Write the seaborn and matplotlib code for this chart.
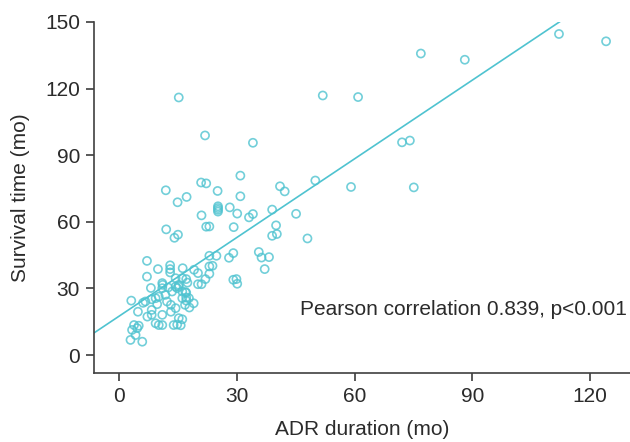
import numpy as np
import pandas as pd
import matplotlib
matplotlib.use("Agg")
import matplotlib.pyplot as plt
import seaborn as sns

# values (months)
adr_duration = [
    112.1, 124.1, 88.1, 76.9, 51.9, 60.9, 15.2, 21.9, 34.1, 72.1, 74.1, 75.1, 59.1, 50.0,
    45.1, 48.0, 41.0, 42.2, 39.0, 40.0, 39.0, 40.2, 35.6, 36.3, 38.2, 37.1,
    30.9, 20.9, 22.2, 25.1, 17.2, 30.9, 14.9, 25.2, 25.2, 25.2, 25.2, 28.2, 21.0, 30.1,
    33.1, 34.1, 22.2, 23.0, 29.2, 11.9, 12.0, 14.1, 15.0,
    23.0, 24.8, 28.0, 29.1, 23.0, 23.8, 23.0, 22.0, 20.1, 19.1, 20.1, 21.0, 29.1, 29.9, 30.1,
    16.2, 16.1, 17.1, 17.4, 15.2, 17.1, 16.1, 17.1, 19.0, 17.9, 15.2, 16.1,
    7.1, 9.9, 13.0, 13.0, 13.0, 7.1, 8.1, 3.1, 4.8, 3.8, 3.3, 4.6, 5.0, 2.9, 5.9,
    9.3, 10.1, 11.0, 16.8, 6.1, 6.7, 8.3, 9.3, 10.1, 11.0, 11.1, 12.5, 11.8, 13.5, 14.4,
    14.8, 15.2, 7.2, 8.3, 8.3, 11.0, 13.2, 14.4, 16.1, 16.9, 17.1, 17.8, 9.7, 12.2, 13.2,
    13.9, 14.8, 15.7, 14.4, 11.0, 4.2,
]
survival_time = [
    144.6, 141.3, 133.0, 135.8, 116.9, 116.2, 116.0, 98.9, 95.6, 95.8, 96.6, 75.5, 75.7, 78.6,
    63.6, 52.5, 76.0, 73.7, 65.5, 58.4, 53.7, 54.5, 46.4, 43.9, 44.1, 38.7,
    80.8, 77.7, 77.3, 73.9, 71.2, 71.5, 68.8, 67.0, 66.2, 65.4, 64.6, 66.5, 62.9, 63.7,
    62.0, 63.5, 57.8, 57.9, 57.6, 74.2, 56.6, 52.8, 54.2,
    44.7, 44.7, 43.8, 45.9, 39.9, 40.2, 36.6, 34.2, 36.9, 38.4, 31.9, 31.9, 33.9, 34.2, 32.1,
    39.1, 34.6, 34.2, 32.6, 30.8, 28.1, 25.6, 24.5, 23.3, 21.4, 16.6, 16.1,
    42.4, 38.7, 40.4, 38.7, 37.2, 35.3, 30.2, 24.5, 19.5, 13.5, 11.3, 12.1, 13.2, 6.8, 6.0,
    14.3, 13.5, 13.5, 22.6, 23.5, 24.1, 25.1, 25.6, 26.3, 30.1, 31.6, 30.4, 27.1, 28.6, 30.8,
    30.1, 31.6, 17.3, 20.3, 18.1, 18.1, 19.5, 21.1, 28.6, 28.3, 25.9, 25.6, 22.9, 24.1, 22.6,
    13.5, 13.7, 13.4, 34.6, 32.4, 9.0,
]
x_ticks = [0, 30, 60, 90, 120]
y_ticks = [0, 30, 60, 90, 120, 150]
note = "Pearson correlation 0.839, p<0.001"

df = pd.DataFrame({"ADR duration (mo)": adr_duration, "Survival time (mo)": survival_time})

sns.set_style("ticks")
plt.rcParams["font.family"] = ["Liberation Sans", "DejaVu Sans"]

teal = "#4fc3d0"
ink = "#2b2b2b"

fig = plt.figure(figsize=(6.3, 4.42), dpi=100)
ax = fig.add_axes([94 / 630, 1 - 373 / 442, 1 - 94 / 630, (373 - 22) / 442])
ax.set_xlim(-6.4, 130.2)
ax.set_ylim(-8.1, 150)

sns.regplot(data=df, x="ADR duration (mo)", y="Survival time (mo)", ax=ax,
            ci=None, truncate=False,
            scatter_kws=dict(s=34, facecolors="none", edgecolors=teal, linewidths=1.2),
            line_kws=dict(color=teal, lw=1.2))

ax.set_xticks(x_ticks)
ax.set_yticks(y_ticks)
ax.tick_params(labelsize=15, colors=ink, length=5.5, width=1.1, pad=4.5)
ax.set_xlabel("ADR duration (mo)", fontsize=15, color=ink, labelpad=10)
ax.set_ylabel("Survival time (mo)", fontsize=15, color=ink, labelpad=11)
for side in ["left", "bottom"]:
    ax.spines[side].set_color("#404040")
    ax.spines[side].set_linewidth(1.2)
sns.despine(ax=ax)

ax.text(46, 20.3, note, fontsize=15, color=ink, ha="left", va="center")

fig.savefig("out.png", dpi=100)
